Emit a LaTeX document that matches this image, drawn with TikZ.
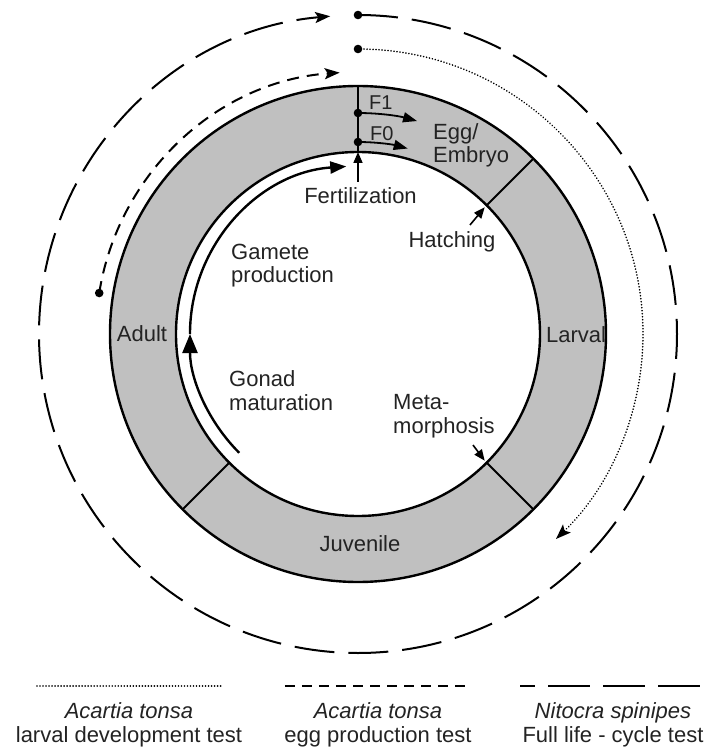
\documentclass[tikz,border=0pt]{standalone}
\usepackage{fontspec}
\setmainfont{Liberation Sans}
\usetikzlibrary{arrows.meta,calc}
\definecolor{ringgray}{RGB}{192,192,192}
\definecolor{txt}{RGB}{35,35,35}
\begin{document}
\begin{tikzpicture}[x=1pt,y=1pt,
  lbl/.style={font=\fontsize{22}{23.5}\selectfont, text=txt, inner sep=0pt},
  flbl/.style={font=\fontsize{20}{22}\selectfont, text=txt, inner sep=0pt},
  ringline/.style={line width=2.4pt},
  divline/.style={line width=2pt},
  smallarrow/.style={line width=1.6pt, -{Triangle[length=11pt,width=9pt]}},
  farrow/.style={line width=1.8pt, -{Triangle[length=14pt,width=10pt]}},
  testtip/.style={-{Stealth[length=15pt,width=11pt,inset=3pt]}},
  longdash/.style={line width=2pt, dash pattern=on 40pt off 14pt},
  shortdash/.style={line width=2pt, dash pattern=on 12pt off 8pt},
  finedot/.style={line width=1.8pt, line cap=round, dash pattern=on 0.01pt off 3pt},
  dotmark/.style={fill=black}
]
\useasboundingbox (-358,334) rectangle (348,-413);

% ----- ring -----
\fill[ringgray, even odd rule] (0,0) circle[radius=248] (0,0) circle[radius=182];
\draw[ringline] (0,0) circle[radius=248];
\draw[ringline] (0,0) circle[radius=182];
\foreach \a in {90,45,-45,-135} \draw[divline] (\a:182) -- (\a:248);

% ----- ring labels -----
\node[lbl, anchor=base] (adult) at (-216,-7) {Adult};
\node[lbl, anchor=base] (larval) at (218,-8) {Larval};
\node[lbl, anchor=base] (juvenile) at (2,-217) {Juvenile};
\node[lbl, anchor=base west, align=left] (egg) at (75,171) {Egg/\\Embryo};

% ----- F0 / F1 -----
\coordinate (f1) at (0,221);
\coordinate (f0) at (0,192);
\draw[farrow] (f1) arc[start angle=90, end angle=74.5, radius=221];
\draw[farrow] (f0) arc[start angle=90, end angle=75, radius=192];
\fill[dotmark] (f1) circle[radius=4.3];
\fill[dotmark] (f0) circle[radius=4.3];
\node[flbl, anchor=base west] (F1) at (11,224) {F1};
\node[flbl, anchor=base west] (F0) at (12,193) {F0};

% ----- inner events -----
\node[lbl, anchor=base] (fert) at (2.5,130) {Fertilization};
\coordinate (fertpt) at (90:182);
\draw[smallarrow] (0,152) -- (fertpt);

\node[lbl, anchor=base] (hatch) at (94,86) {Hatching};
\coordinate (hatchpt) at (45:182);
\coordinate (hatchtail) at (112,109);
\draw[smallarrow] (hatchtail) -- ($(hatchpt)+(-2,-2)$);

\node[lbl, anchor=base west, align=left] (meta) at (35,-99) {Meta-\\morphosis};
\coordinate (metapt) at (-45:182);
\coordinate (metatail) at (115,-111);
\draw[smallarrow] (metatail) -- ($(metapt)+(-2,2)$);

\node[lbl, anchor=base west, align=left] (gamete) at (-127,51) {Gamete\\production};
\node[lbl, anchor=base west, align=left] (gonad) at (-129,-76) {Gonad\\maturation};

% inner developmental arrow
\draw[ringline, -{Triangle[length=19pt,width=15pt]}] (225:168) arc[start angle=225, end angle=180, radius=168];
\draw[ringline, -{Triangle[length=16pt,width=12pt]}] (180:168) arc[start angle=180, end angle=94, radius=168];

% ----- outer test arcs -----
\coordinate (nitostart) at (90:319);
\coordinate (larvstart) at (90:285);
\coordinate (eggstart) at (171:262);
\draw[longdash, testtip] (nitostart) arc[start angle=90, end angle=-265, radius=319];
\draw[finedot, testtip] (larvstart) arc[start angle=90, end angle=-46, radius=285];
\draw[shortdash, testtip] (eggstart) arc[start angle=171, end angle=94, radius=262];
\fill[dotmark] (nitostart) circle[radius=4.3];
\fill[dotmark] (larvstart) circle[radius=4.3];
\fill[dotmark] (eggstart) circle[radius=4.3];

% ----- legend -----
\coordinate (l1a) at (-321,-352); \coordinate (l1b) at (-136,-352);
\coordinate (l2a) at (-73,-352);  \coordinate (l2b) at (112,-352);
\coordinate (l3a) at (162,-352);  \coordinate (l3b) at (348,-352);
\draw[finedot] (l1a) -- (l1b);
\draw[line width=2pt, dash pattern=on 10pt off 7pt] (l2a) -- (l2b);
\draw[line width=2pt, dash pattern=on 42pt off 13pt, dash phase=27pt] (l3a) -- (l3b);

\node[lbl, anchor=base] (sp1) at (-229,-384) {\itshape Acartia tonsa};
\node[lbl, anchor=base] (ts1) at (-229,-408) {larval development test};
\node[lbl, anchor=base] (sp2) at (20,-384) {\itshape Acartia tonsa};
\node[lbl, anchor=base] (ts2) at (20,-408) {egg production test};
\node[lbl, anchor=base] (sp3) at (255,-384) {\itshape Nitocra spinipes};
\node[lbl, anchor=base] (ts3) at (255,-408) {Full life - cycle test};
\end{tikzpicture}
\end{document}
